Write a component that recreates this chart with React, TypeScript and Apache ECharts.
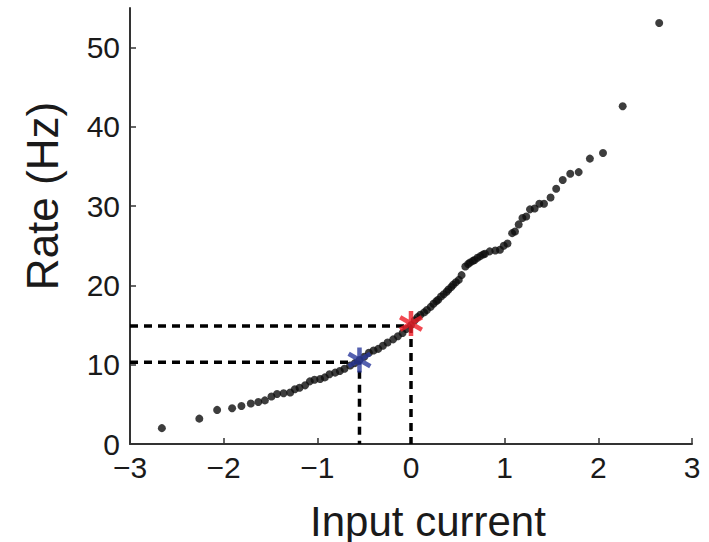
import React, { useEffect, useRef } from "react";
import * as echarts from "echarts";

const xTicks = [-3, -2, -1, 0, 1, 2, 3];
const yTicks = [0, 10, 20, 30, 40, 50];

const inputCurrent = [
  -2.66, -2.26, -2.07, -1.91, -1.81, -1.71, -1.63, -1.56, -1.49, -1.43, -1.36, -1.29,
  -1.24, -1.19, -1.13, -1.08, -1.03, -0.97, -0.92, -0.87, -0.81, -0.76, -0.71, -0.65,
  -0.6, -0.55, -0.5, -0.45, -0.4, -0.35, -0.3, -0.25, -0.19, -0.14, -0.09, -0.05,
  0.0, 0.04, 0.07, 0.1, 0.14, 0.17, 0.21, 0.24, 0.27, 0.29, 0.32, 0.35, 0.38, 0.4,
  0.43, 0.45, 0.48, 0.51, 0.54, 0.58, 0.61, 0.63, 0.66, 0.68, 0.71, 0.74, 0.77, 0.79,
  0.84, 0.9, 0.95, 0.99, 1.03, 1.08, 1.11, 1.15, 1.19, 1.23, 1.27, 1.32, 1.37, 1.42,
  1.49, 1.55, 1.62, 1.7, 1.79, 1.91, 2.05, 2.26, 2.65,
];
const rateHz = [
  2.0, 3.2, 4.3, 4.5, 4.8, 5.1, 5.3, 5.5, 6.0, 6.3, 6.4, 6.5,
  6.9, 7.1, 7.4, 7.9, 8.1, 8.2, 8.4, 8.8, 9.0, 9.2, 9.5, 9.9,
  10.2, 10.6, 11.0, 11.5, 11.8, 12.0, 12.4, 12.8, 13.2, 13.6, 14.0, 14.5,
  15.0, 15.6, 16.0, 16.3, 16.6, 16.9, 17.3, 17.7, 18.0, 18.2, 18.6, 18.9, 19.2, 19.5,
  19.8, 20.1, 20.4, 20.7, 21.3, 22.4, 22.7, 22.9, 23.1, 23.2, 23.5, 23.7, 23.9, 24.0,
  24.3, 24.4, 24.5, 25.0, 25.3, 26.6, 26.8, 27.7, 28.5, 28.7, 29.6, 29.7, 30.3, 30.3,
  31.1, 32.2, 33.3, 34.1, 34.3, 36.0, 36.7, 42.6, 53.1,
];

// highlighted operating points: [input, rate]
const redPoint = [0.0, 14.9];
const bluePoint = [-0.55, 10.3];
const redStar = [0.0, 15.2];
const blueStar = [-0.55, 10.6];

const ASTERISK =
  "path://M-1.8,-10L1.8,-10L1.8,10L-1.8,10Z" +
  "M7.76,-6.56L9.56,-3.44L-7.76,6.56L-9.56,3.44Z" +
  "M9.56,3.44L7.76,6.56L-9.56,-3.44L-7.76,-6.56Z";

const FONT = "Liberation Sans, Arial, Helvetica, sans-serif";
const fmtMinus = (v: number) => String(v).replace("-", "\u2212");

export default function App() {
  const ref = useRef<HTMLDivElement>(null);
  useEffect(() => {
    if (!ref.current) return;
    const chart = echarts.init(ref.current, null, { renderer: "svg" });
    const dashed = (pts: number[][]) => ({
      type: "line",
      data: pts,
      symbol: "none",
      silent: true,
      z: 1,
      lineStyle: { color: "#000", width: 3.5, type: [8, 6] },
    });
    chart.setOption({
      animation: false,
      grid: { left: 130, right: 17, top: 8, bottom: 98, containLabel: false, outerBoundsMode: "none" },
      xAxis: {
        type: "value",
        min: -3,
        max: 3,
        interval: 1,
        name: "Input current",
        nameLocation: "middle",
        nameGap: 56,
        nameTextStyle: { fontFamily: FONT, fontSize: 42, color: "#1a1a1a", padding: [0, 0, 0, 34] },
        axisLine: { show: true, onZero: false, lineStyle: { color: "#333", width: 2 } },
        axisTick: { show: true, inside: true, length: 6, lineStyle: { color: "#333", width: 1.5 }, customValues: xTicks },
        axisLabel: {
          customValues: xTicks,
          fontFamily: FONT,
          fontSize: 30,
          color: "#1a1a1a",
          margin: 8,
          formatter: (v: number) => fmtMinus(v),
        },
        splitLine: { show: false },
      },
      yAxis: {
        type: "value",
        min: 0,
        max: 55,
        interval: 10,
        name: "Rate (Hz)",
        nameLocation: "middle",
        nameGap: 66,
        nameTextStyle: { fontFamily: FONT, fontSize: 44, color: "#1a1a1a", padding: [0, 0, 0, 60] },
        axisLine: { show: true, onZero: false, lineStyle: { color: "#333", width: 2 } },
        axisTick: { show: true, inside: true, length: 6, lineStyle: { color: "#333", width: 1.5 }, customValues: yTicks },
        axisLabel: {
          customValues: yTicks,
          fontFamily: FONT,
          fontSize: 30,
          color: "#1a1a1a",
          margin: 10,
        },
        splitLine: { show: false },
      },
      series: [
        dashed([
          [-3, redPoint[1]],
          [redPoint[0], redPoint[1]],
          [redPoint[0], 0],
        ]),
        dashed([
          [-3, bluePoint[1]],
          [bluePoint[0], bluePoint[1]],
          [bluePoint[0], 0],
        ]),
        {
          type: "scatter",
          data: inputCurrent.map((x, i) => [x, rateHz[i]]),
          symbol: "circle",
          symbolSize: 8,
          itemStyle: { color: "#0d0d0d" },
          z: 2,
        },
        {
          type: "scatter",
          data: [blueStar],
          symbol: ASTERISK,
          symbolSize: [24, 25],
          itemStyle: { color: "#2a3a9c" },
          z: 3,
        },
        {
          type: "scatter",
          data: [redStar],
          symbol: ASTERISK,
          symbolSize: [24, 25],
          itemStyle: { color: "#ee1c25" },
          z: 3,
        },
      ],
    });
    return () => chart.dispose();
  }, []);
  return <div ref={ref} style={{ width: 709, height: 542, position: "absolute", left: 0, top: 0, background: "#fff" }} />;
}
